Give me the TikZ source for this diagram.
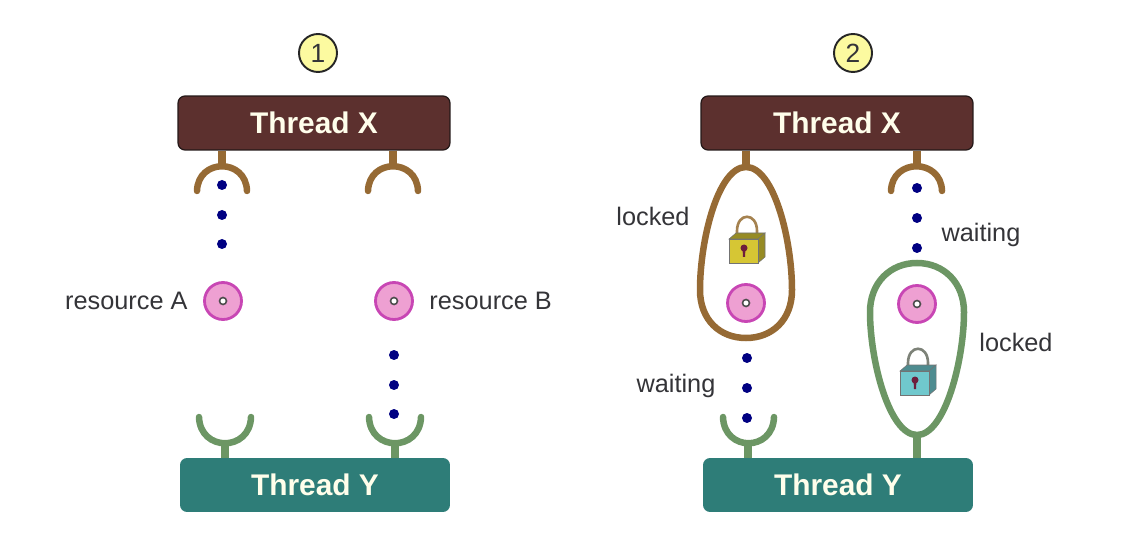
\documentclass[tikz,border=0pt]{standalone}
\usepackage{fontspec}
\setmainfont{Liberation Sans}
\usetikzlibrary{positioning,calc}
\definecolor{ink}{RGB}{52,52,56}
\definecolor{xfill}{RGB}{92,48,46}
\definecolor{xedge}{RGB}{36,24,24}
\definecolor{yfill}{RGB}{46,125,120}
\definecolor{brownarm}{RGB}{150,106,52}
\definecolor{greenarm}{RGB}{108,150,100}
\definecolor{beadblue}{RGB}{0,0,130}
\definecolor{discfill}{RGB}{238,160,210}
\definecolor{discedge}{RGB}{200,70,180}
\definecolor{badgefill}{RGB}{252,250,160}
\definecolor{lockyellow}{RGB}{214,198,52}
\definecolor{lockteal}{RGB}{112,200,205}
\definecolor{lockhole}{RGB}{110,30,60}
\definecolor{shackley}{RGB}{165,130,80}
\definecolor{shacklet}{RGB}{125,130,120}

\begin{document}
\begin{tikzpicture}[
    x=0.02cm,y=-0.02cm,
    threadx/.style={draw=xedge,line width=0.7pt,rounded corners=4pt,fill=xfill,
      minimum width=5.44cm,minimum height=1.08cm,inner sep=0pt,
      text=white!92!yellow,font=\fontsize{17}{20}\selectfont\bfseries},
    thready/.style={rounded corners=4pt,fill=yfill,
      minimum width=5.40cm,minimum height=1.08cm,inner sep=0pt,
      text=white!92!yellow,font=\fontsize{17}{20}\selectfont\bfseries},
    badge/.style={circle,draw=black!85,line width=1.1pt,fill=badgefill,
      minimum size=0.76cm,inner sep=0pt,font=\fontsize{15}{18}\selectfont,text=ink},
    disc/.style={circle,draw=discedge,line width=1.6pt,fill=discfill,
      minimum size=0.74cm,inner sep=0pt},
    hole/.style={circle,draw=black!70,line width=0.9pt,fill=white,
      minimum size=0.14cm,inner sep=0pt},
    bead/.style={circle,fill=beadblue,minimum size=0.2cm,inner sep=0pt},
    note/.style={font=\fontsize{14.4}{17}\selectfont,text=ink,inner sep=0pt},
    stem/.style={draw=#1,line width=5pt},
    arm/.style={draw=#1,line width=3.7pt,line cap=round},
    pics/lockpic/.style 2 args={code={
      \draw[draw=#2,line width=1.5pt] (-9,-6) -- (-9,-14)
        .. controls (-9,-33) and (11,-33) .. (11,-14) -- (11,-6);
      \fill[#1!70!black,draw=black!55,line width=0.3pt] (-17,-6) -- (-10,-12) -- (19,-12) -- (12,-6) -- cycle;
      \fill[#1!70!black,draw=black!55,line width=0.3pt] (12,-6) -- (19,-12) -- (19,12) -- (12,18) -- cycle;
      \fill[#1,draw=black!55,line width=0.5pt] (-17,-6) rectangle (12,18);
      \fill[lockhole] (-2,3) circle (3.5);
      \fill[lockhole] (-3.5,3) -- (-0.5,3) -- (-1,12) -- (-3,12) -- cycle;
    }},
  ]

  \useasboundingbox (0,0) rectangle (1132,540);

  % the two panels
  \foreach \p/\dx/\lab in {a/0/1, b/523/2} {
    \node[badge] (badge\p) at ({318+\dx+12*(\dx>0)},53) {\lab};
    \node[threadx] (thx\p) at ({314+\dx},123) {Thread X};
    \node[thready] (thy\p) at ({315+\dx},485) {Thread Y};
  }

  % panel 1: open hands
  \coordinate (xl) at (222,167);
  \coordinate (xr) at (393,167);
  \coordinate (yl) at (225,443);
  \coordinate (yr) at (395,443);
  \draw[stem=brownarm] (xl |- thxa.south) -- (xl);
  \draw[stem=brownarm] (xr |- thxa.south) -- (xr);
  \draw[stem=greenarm] (yl |- thya.north) -- (yl);
  \draw[stem=greenarm] (yr |- thya.north) -- (yr);
  \draw[arm=brownarm] (197,191) .. controls (198,158) and (246,158) .. (247,191);
  \draw[arm=brownarm] (368,191) .. controls (369,158) and (417,158) .. (418,191);
  \draw[arm=greenarm] (199,417) .. controls (200,452) and (250,452) .. (251,417);
  \draw[arm=greenarm] (369,417) .. controls (370,452) and (420,452) .. (421,417);

  \node[disc] (disca) at (223,301) {};
  \node[hole] at (disca.center) {};
  \node[disc] (discb) at (394,301) {};
  \node[hole] at (discb.center) {};
  \node[note,left=20pt of disca.center] (resa) {resource A};
  \node[note,right=20pt of discb.center] (resb) {resource B};

  \foreach \n/\y in {1/185,2/215,3/244}
    \node[bead] (beada\n) at (222,\y) {};
  \foreach \n/\y in {1/355,2/385,3/414}
    \node[bead] (beadb\n) at (394,\y) {};

  % panel 2: loop on the left, hand on the right and the reverse below
  \coordinate (xc) at (746,167);
  \coordinate (xd) at (917,167);
  \coordinate (yc) at (748,443);
  \coordinate (yd) at (917,435);
  \draw[stem=brownarm] (xc |- thxb.south) -- (xc);
  \draw[stem=brownarm] (xd |- thxb.south) -- (xd);
  \draw[stem=greenarm] (yc |- thyb.north) -- (yc);
  \draw[stem=greenarm] (yd |- thyb.north) -- (yd);
  \draw[arm=brownarm] (891,191) .. controls (892,158) and (941,158) .. (942,191);
  \draw[arm=greenarm] (723,417) .. controls (724,452) and (773,452) .. (774,417);

  \draw[arm=brownarm] (xc) .. controls (774,167) and (792,240) .. (792,290)
    .. controls (792,320) and (772,338) .. (746,338)
    .. controls (720,338) and (700,320) .. (700,290)
    .. controls (700,240) and (718,167) .. (xc) -- cycle;
  \draw[arm=greenarm] (yd) .. controls (889,435) and (870,360) .. (870,312)
    .. controls (870,283) and (890,263) .. (917,263)
    .. controls (944,263) and (964,283) .. (964,312)
    .. controls (964,360) and (945,435) .. (yd) -- cycle;

  \node[disc] (discc) at (746,303) {};
  \node[hole] at (discc.center) {};
  \node[disc] (discd) at (917,304) {};
  \node[hole] at (discd.center) {};
  \pic at (746,245) {lockpic={lockyellow}{shackley}};
  \pic at (917,377) {lockpic={lockteal}{shacklet}};

  \foreach \n/\y in {1/188,2/218,3/248}
    \node[bead] (beadd\n) at (917,\y) {};
  \foreach \n/\y in {1/358,2/388,3/418}
    \node[bead] (beadc\n) at (747,\y) {};

  \node[note] (lockc) at (653,216) {locked};
  \node[note] (waitd) at (981,235) {waiting};
  \node[note] (lockd) at (1016,342) {locked};
  \node[note] (waitc) at (676,386) {waiting};

\end{tikzpicture}
\end{document}
